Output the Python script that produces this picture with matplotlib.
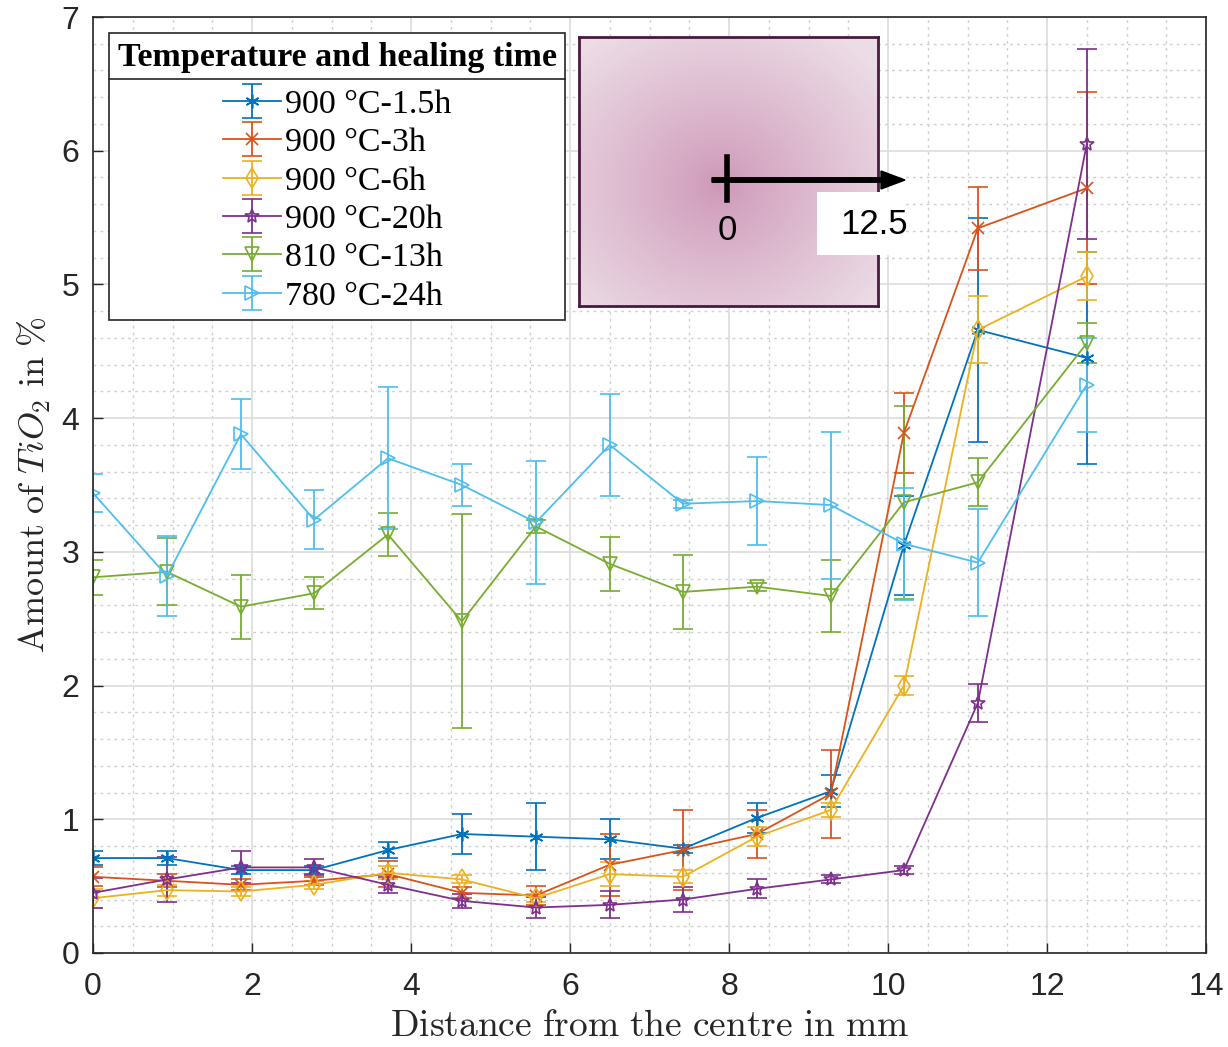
import matplotlib
matplotlib.use("Agg")
import matplotlib.pyplot as plt
import numpy as np
from matplotlib.patches import Rectangle, FancyArrow
from matplotlib.lines import Line2D
from matplotlib.ticker import MultipleLocator

plt.rcParams['mathtext.fontset'] = 'cm'

# distance from the centre (mm)
dist = [0, 0.93, 1.86, 2.78, 3.71, 4.64, 5.57, 6.50, 7.42, 8.35, 9.28, 10.20, 11.13, 12.5]

labels = ['900 °C-1.5h', '900 °C-3h', '900 °C-6h', '900 °C-20h', '810 °C-13h', '780 °C-24h']

t900_15 = [0.71, 0.71, 0.62, 0.62, 0.77, 0.89, 0.87, 0.85, 0.78, 1.01, 1.21, 3.05, 4.66, 4.45]
t900_15_err = [0.05, 0.05, 0.03, 0.03, 0.06, 0.15, 0.25, 0.15, 0.03, 0.11, 0.12, 0.37, 0.84, 0.79]

t900_3 = [0.57, 0.54, 0.51, 0.54, 0.59, 0.45, 0.43, 0.66, 0.77, 0.89, 1.19, 3.89, 5.42, 5.72]
t900_3_err = [0.07, 0.05, 0.04, 0.03, 0.10, 0.04, 0.07, 0.23, 0.30, 0.18, 0.33, 0.30, 0.31, 0.72]

t900_6 = [0.41, 0.47, 0.46, 0.51, 0.60, 0.55, 0.41, 0.59, 0.57, 0.87, 1.07, 2.00, 4.66, 5.06]
t900_6_err = [0.07, 0.04, 0.03, 0.03, 0.05, 0.03, 0.03, 0.09, 0.05, 0.07, 0.05, 0.07, 0.25, 0.18]

t900_20 = [0.45, 0.55, 0.64, 0.64, 0.51, 0.39, 0.34, 0.36, 0.40, 0.48, 0.55, 0.62, 1.87, 6.05]
t900_20_err = [0.11, 0.17, 0.12, 0.06, 0.06, 0.05, 0.08, 0.10, 0.09, 0.07, 0.03, 0.03, 0.14, 0.71]

t810_13 = [2.81, 2.85, 2.59, 2.69, 3.13, 2.48, 3.19, 2.91, 2.70, 2.74, 2.67, 3.37, 3.52, 4.56]
t810_13_err = [0.13, 0.25, 0.24, 0.12, 0.16, 0.80, 0.05, 0.20, 0.28, 0.03, 0.27, 0.72, 0.18, 0.15]

t780_24 = [3.44, 2.82, 3.88, 3.24, 3.70, 3.50, 3.22, 3.80, 3.36, 3.38, 3.35, 3.06, 2.92, 4.25]
t780_24_err = [0.14, 0.30, 0.26, 0.22, 0.53, 0.16, 0.46, 0.38, 0.03, 0.33, 0.55, 0.42, 0.40, 0.35]

series = [t900_15, t900_3, t900_6, t900_20, t810_13, t780_24]
errors = [t900_15_err, t900_3_err, t900_6_err, t900_20_err, t810_13_err, t780_24_err]
colors = ['#0072BD', '#D95319', '#EDB120', '#7E2F8E', '#77AC30', '#4DBEEE']
markers = [(6, 2, 0), 'x', 'd', '*', 'v', '>']
msizes = [10, 9, 10, 10, 10, 10]

W, H = 1228, 1047
fig = plt.figure(figsize=(W / 100, H / 100), dpi=100)
ax = fig.add_axes([93 / W, 1 - 953 / H, (1206 - 93) / W, (953 - 17) / H])

handles = []
for y, e, c, m, ms, lab in zip(series, errors, colors, markers, msizes, labels):
    h = ax.errorbar(dist, y, yerr=e, color=c, marker=m, markersize=ms,
                    markerfacecolor='none', markeredgewidth=1.2, lw=1.3,
                    elinewidth=1.3, capsize=7, capthick=1.3, label=lab)
    handles.append(h)

ax.set_xlim(0, 14)
ax.set_ylim(0, 7)
ax.xaxis.set_major_locator(MultipleLocator(2))
ax.yaxis.set_major_locator(MultipleLocator(1))
ax.xaxis.set_minor_locator(MultipleLocator(0.5))
ax.yaxis.set_minor_locator(MultipleLocator(0.2))
ax.grid(True, which='major', color='#dcdcdc', lw=1.2)
ax.grid(True, which='minor', color='#cfcfcf', lw=1.0, ls=(0, (2, 3)))
ax.set_axisbelow(True)
ax.tick_params(which='major', direction='in', length=7, width=1, color='#262626',
               labelsize=23, labelcolor='#262626')
ax.tick_params(axis='x', which='major', pad=14)
ax.tick_params(axis='y', which='major', pad=10)
ax.tick_params(which='minor', length=0)
for lab in ax.get_xticklabels() + ax.get_yticklabels():
    lab.set_family('Liberation Sans')
for sp in ax.spines.values():
    sp.set_color('#262626')
    sp.set_linewidth(1.2)

ax.set_xlabel(r'$\mathrm{Distance\ from\ the\ centre\ in\ mm}$', fontsize=27,
              color='#262626', labelpad=4)
ax.set_ylabel(r'$\mathrm{Amount\ of\ }TiO_2\mathrm{\ in\ }\%$', fontsize=26,
              color='#262626', labelpad=6)

leg = ax.legend(handles=handles, loc='upper left',
                bbox_to_anchor=(109 / W, 1 - 33 / H), bbox_transform=fig.transFigure,
                borderaxespad=0, title='Temperature and healing time',
                prop={'family': 'Liberation Serif', 'size': 24.5},
                title_fontproperties={'family': 'Liberation Serif', 'size': 24.5, 'weight': 'bold'},
                alignment='center', fancybox=False, framealpha=1, edgecolor='#262626',
                handlelength=1.7, handletextpad=0.12, labelspacing=0.22, borderpad=0.25)
leg.get_frame().set_linewidth(1.2)
leg._legend_box.sep = 12

# separator line under the legend title
fig.canvas.draw()
fb = leg.get_frame().get_window_extent()
tb = leg.get_title().get_window_extent()
eb = leg.get_texts()[0].get_window_extent()
ysep = (tb.y0 + eb.y1) / 2 + 2
fig.add_artist(Line2D([fb.x0 / W, fb.x1 / W], [ysep / H, ysep / H], color='#262626',
                      lw=1.2, transform=fig.transFigure))

# inset sketch of the sample
ix0, iy0, iw, ih = 579, 37, 299, 269
iax = fig.add_axes([ix0 / W, 1 - (iy0 + ih) / H, iw / W, ih / H])
gx, gy = np.meshgrid(np.linspace(0, 1, iw), np.linspace(0, 1, ih))
r = np.sqrt(((gx - 0.47) / 0.68) ** 2 + ((gy - 0.55) / 0.68) ** 2)
r = np.clip(r, 0, 1)
c0 = np.array([206, 152, 184]) / 255
c1 = np.array([236, 220, 230]) / 255
img = c0 + (c1 - c0) * r[..., None] ** 0.9
iax.imshow(img, aspect='auto')
iax.set_xticks([])
iax.set_yticks([])
for sp in iax.spines.values():
    sp.set_color('#4a1a3e')
    sp.set_linewidth(2)

cx, cy = 727, 180
fig.add_artist(Line2D([cx / W, cx / W], [1 - 157 / H, 1 - 200 / H], color='black',
                      lw=4, transform=fig.transFigure))
fig.add_artist(FancyArrow(712 / W, 1 - cy / H, (905 - 712) / W, 0, width=4.5 / H,
                          head_width=18 / H, head_length=24 / W, length_includes_head=True,
                          color='black', transform=fig.transFigure))
fig.text(cx / W, 1 - 230 / H, '0', ha='center', va='center', fontsize=25,
         family='Liberation Sans')
fig.add_artist(Rectangle((817 / W, 1 - 255 / H), 88 / W, 63 / H, facecolor='white',
                         edgecolor='none', transform=fig.transFigure))
fig.text(874 / W, 1 - 224 / H, '12.5', ha='center', va='center', fontsize=25,
         family='Liberation Sans')

fig.savefig('out.png', dpi=100)
